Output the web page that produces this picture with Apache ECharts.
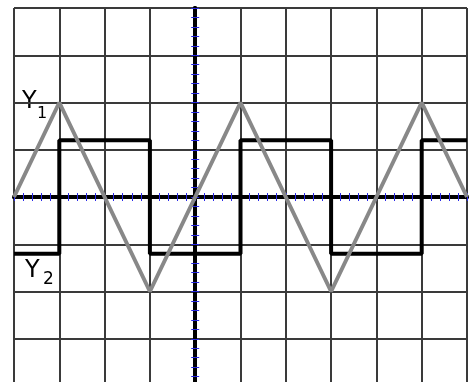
<!DOCTYPE html>
<html>
<head>
<meta charset="utf-8">
<script src="https://cdn.jsdelivr.net/npm/echarts@6/dist/echarts.min.js"></script>
<style>
html, body { margin: 0; padding: 0; background: #fff; }
#chart { width: 472px; height: 382px; }
</style>
</head>
<body>
<div id="chart"></div>
<script>
// 示波器网格：横向 -4..6 格，纵向 -4..4 格
var xRange = [-4, 6];
var yRange = [-4, 4];

// Y1 三角波（灰色）
var triX = [-4, -3, -1, 1, 3, 5, 6];
var triY = [0, 2, -2, 2, -2, 2, 0];

// Y2 方波（黑色）
var sqX = [-4, -3, -1, 1, 3, 5, 6];
var sqY = [-1.2, 1.2, -1.2, 1.2, -1.2, 1.2, 1.2];

var tickColor = '#2a2ae8';
var gridColor = '#3a3a3a';

function pairs(xs, ys) {
	var out = [];
	for (var i = 0; i < xs.length; i++) out.push([xs[i], ys[i]]);
	return out;
}

function makeAxis(range, position, main) {
	return {
		type: 'value',
		position: position,
		min: range[0],
		max: range[1],
		interval: 1,
		axisLine: {
			onZero: true,
			onZeroAxisIndex: 0,
			lineStyle: { color: '#000', width: 4 }
		},
		axisTick: {
			show: true,
			length: 4,
			lineStyle: { color: tickColor, width: 1 }
		},
		minorTick: {
			show: true,
			splitNumber: 5,
			length: 4,
			lineStyle: { color: tickColor, width: 1 }
		},
		axisLabel: { show: false },
		splitLine: {
			show: main,
			showMinLine: true,
			showMaxLine: true,
			lineStyle: { color: gridColor, width: 2 }
		},
		minorSplitLine: { show: false }
	};
}

var chart = echarts.init(document.getElementById('chart'), null, { renderer: 'canvas' });

chart.setOption({
	backgroundColor: '#fff',
	animation: false,
	grid: {
		left: 14,
		top: 8,
		width: 453,
		height: 378,
		containLabel: false,
		outerBoundsMode: 'none'
	},
	xAxis: [makeAxis(xRange, 'bottom', true), makeAxis(xRange, 'top', false)],
	yAxis: [makeAxis(yRange, 'left', true), makeAxis(yRange, 'right', false)],
	graphic: [
		{ type: 'text', left: 22, top: 90, style: { text: 'Y', font: '24px "DejaVu Sans"', fill: '#000' } },
		{ type: 'text', left: 37, top: 106, style: { text: '1', font: '16px "DejaVu Sans"', fill: '#000' } },
		{ type: 'text', left: 25, top: 259, style: { text: 'Y', font: '24px "DejaVu Sans"', fill: '#000' } },
		{ type: 'text', left: 43, top: 271, style: { text: '2', font: '17px "DejaVu Sans"', fill: '#000' } }
	],
	series: [
		{
			name: 'Y2',
			type: 'line',
			step: 'end',
			data: pairs(sqX, sqY),
			symbol: 'none',
			lineStyle: { color: '#000', width: 4 },
			z: 3
		},
		{
			name: 'Y1',
			type: 'line',
			data: pairs(triX, triY),
			symbol: 'none',
			lineStyle: { color: '#888', width: 4 },
			z: 4
		}
	]
});
</script>
</body>
</html>
